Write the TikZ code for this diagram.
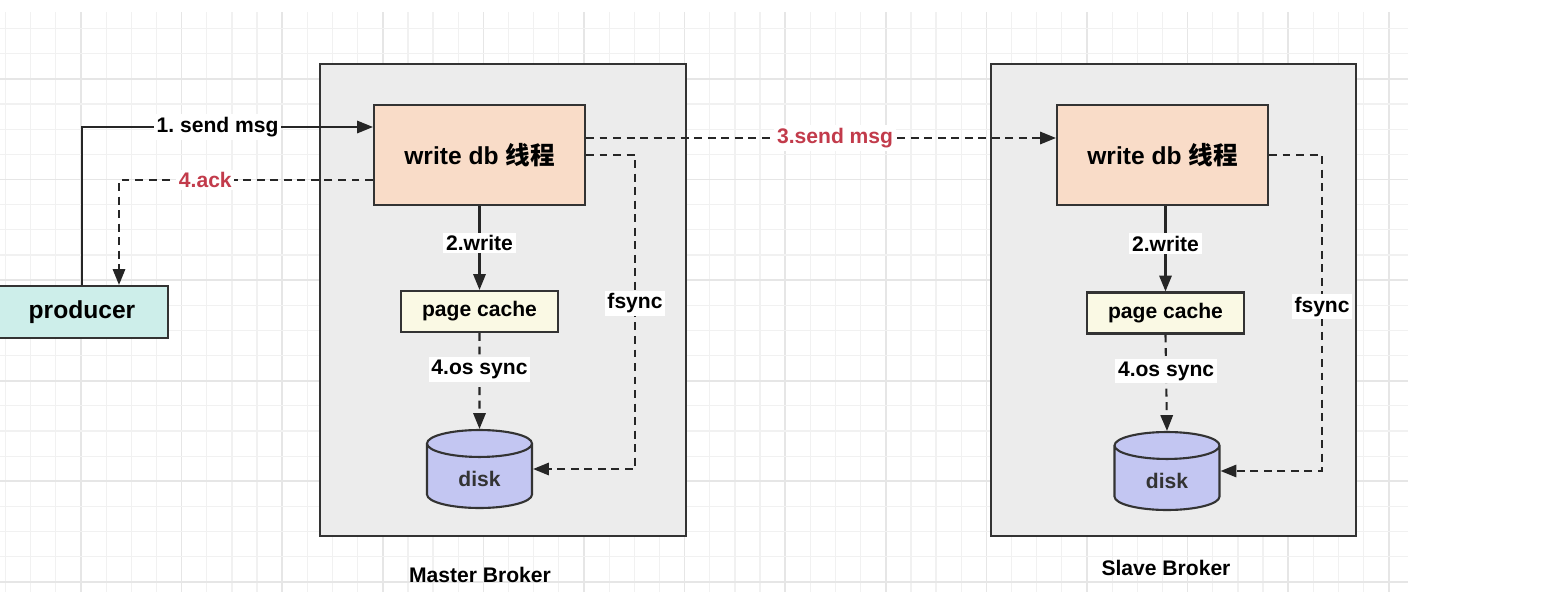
\documentclass[tikz,border=0pt]{standalone}
\usepackage{fontspec}
\setmainfont{Liberation Sans}
\newfontfamily\cjk{Noto Sans CJK SC}
\usetikzlibrary{calc,shapes.geometric,arrows.meta}

\definecolor{boxgray}{HTML}{ECECEC}
\definecolor{peach}{HTML}{F9DCC8}
\definecolor{cachey}{HTML}{FAF9E4}
\definecolor{disklav}{HTML}{C3C6F2}
\definecolor{prodteal}{HTML}{CDEEEA}
\definecolor{ackred}{HTML}{C23B4B}
\definecolor{gridmin}{HTML}{F1F1F1}
\definecolor{gridmaj}{HTML}{E6E6E6}

\begin{document}
\begin{tikzpicture}[x=0.02cm, y=-0.02cm,
  broker/.style={draw=black!80, line width=1.4pt, fill=boxgray},
  thread/.style={draw=black!80, line width=1.2pt, fill=peach,
    minimum width=4.22cm, minimum height=2cm,
    font=\fontsize{14}{16}\selectfont\bfseries},
  cache/.style={draw=black!80, line width=1.2pt, fill=cachey,
    minimum width=3.14cm, minimum height=0.82cm,
    font=\fontsize{12}{14}\selectfont\bfseries},
  disk/.style={cylinder, shape border rotate=90, aspect=0.5, anchor=shape center,
    draw=black!80, line width=1.2pt, fill=disklav,
    minimum width=2.1cm, minimum height=1.56cm,
    font=\fontsize{12}{14}\selectfont\bfseries, text=black!80},
  prod/.style={draw=black!80, line width=1.2pt, fill=prodteal,
    minimum width=3.44cm, minimum height=1.04cm,
    font=\fontsize{14}{16}\selectfont\bfseries},
  lbl/.style={fill=white, inner sep=1.5pt,
    font=\fontsize{12}{14}\selectfont\bfseries},
  redlbl/.style={lbl, text=ackred},
  title/.style={font=\fontsize{12}{14}\selectfont\bfseries},
  flow/.style={-{Triangle[length=9pt,width=7pt]}, line width=1.2pt, draw=black!85},
  dflow/.style={flow, dash pattern=on 4.5pt off 3.2pt}]
  \useasboundingbox (0,0) rectangle (1556,592);
  % 背景网格 (小格 25px, 每 4 格一条粗线)
  \foreach \i in {0,...,55}{
    \pgfmathtruncatemacro{\m}{mod(\i,4)}
    \ifnum\m=3 \def\gc{gridmaj}\def\gw{1pt}\else\def\gc{gridmin}\def\gw{0.7pt}\fi
    \draw[\gc, line width=\gw] ({5.55+25.15*\i},12) -- ({5.55+25.15*\i},592);
  }
  \foreach \j in {0,...,22}{
    \pgfmathtruncatemacro{\m}{mod(\j,4)}
    \ifnum\m=2 \def\gc{gridmaj}\def\gw{1pt}\else\def\gc{gridmin}\def\gw{0.7pt}\fi
    \draw[\gc, line width=\gw] (0,{28.6+25.15*\j}) -- (1408,{28.6+25.15*\j});
  }
  % 两个 broker 框
  \draw[broker] (320,64) rectangle (686,536);
  \draw[broker] (991,64) rectangle (1356,536);
  % Master Broker
  \node[thread] (wdbM) at (479.5,155) {write db {\cjk\bfseries 线程}};
  \node[cache] (pcM) at (479.5,311.5) {page cache};
  \node[disk] (diskM) at (479.5,469) {disk};
  \node[title] (mTitle) at (480,575) {Master Broker};
  % Slave Broker
  \node[thread] (wdbS) at (1162.5,155) {write db {\cjk\bfseries 线程}};
  \node[cache] (pcS) at (1165.5,313) {page cache};
  \node[disk] (diskS) at (1167,471) {disk};
  \node[title] (sTitle) at (1166,568) {Slave Broker};
  % producer
  \node[prod] (producer) at (82,312) {producer};
  % 连线
  \draw[flow] (producer.north) |- node[lbl, pos=0.733] {1.\ send msg} ($(wdbM.west)+(0,-28)$);
  \draw[dflow] ($(wdbM.west)+(0,25)$) -| node[redlbl, pos=0.33] {4.ack} ($(producer.north)+(37,0)$);
  \draw[dflow] ($(wdbM.east)+(0,-17)$) -- node[redlbl, pos=0.53] {3.send msg} ($(wdbS.west)+(0,-17)$);
  \draw[flow] (wdbM.south) -- node[lbl, pos=0.44] {2.write} (pcM.north);
  \draw[dflow] (pcM.south) -- node[lbl, pos=0.38] {4.os sync} (diskM.north);
  \draw[dflow] (wdbM.east) -- ++(49,0) |- node[lbl, pos=0.236] {fsync} (diskM.east |- diskM.shape center);
  \draw[flow] (pcS.north |- wdbS.south) -- node[lbl, pos=0.44] {2.write} (pcS.north);
  \draw[dflow] (pcS.south) -- node[lbl, pos=0.38] {4.os sync} (diskS.north);
  \draw[dflow] (wdbS.east) -- ++(53,0) |- node[lbl, pos=0.24] {fsync} (diskS.east |- diskS.shape center);
\end{tikzpicture}
\end{document}
